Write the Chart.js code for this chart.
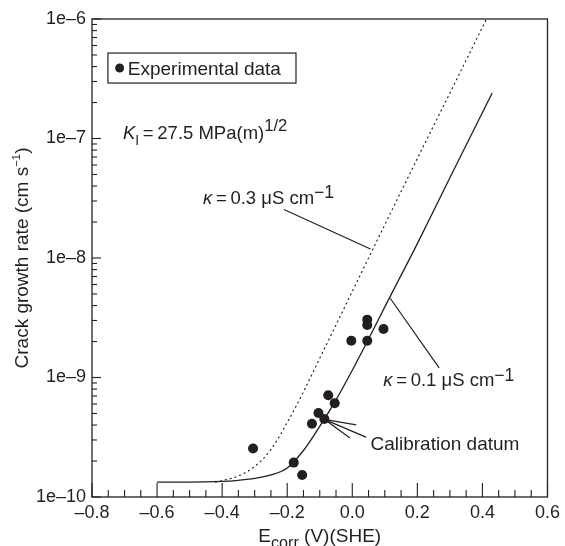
<!DOCTYPE html>
<html>
<head>
<meta charset="utf-8">
<script src="https://cdn.jsdelivr.net/npm/chart.js@4.4.1/dist/chart.umd.min.js"></script>
<style>
  html, body { margin: 0; padding: 0; background: #fff; }
  #wrap { width: 565px; height: 546px; }
</style>
</head>
<body>
<div id="wrap"><canvas id="chart" width="565" height="546"></canvas></div>
<script>
// measured crack growth rates vs corrosion potential
const expE = [-0.305, -0.180, -0.154, -0.124, -0.104, -0.086, -0.074, -0.054, -0.003, 0.046, 0.046, 0.046, 0.096];
const expRate = [2.55e-10, 1.94e-10, 1.53e-10, 4.1e-10, 5.05e-10, 4.5e-10, 7.1e-10, 6.1e-10, 2.03e-9, 3.05e-9, 2.75e-9, 2.03e-9, 2.55e-9];

// model prediction, kappa = 0.1 uS/cm (solid)
const lowE = [-0.60, -0.50, -0.40, -0.35, -0.30, -0.25, -0.20, -0.15, -0.10, -0.05, 0.00, 0.05, 0.10, 0.20, 0.30, 0.43];
const lowRate = [1.33e-10, 1.33e-10, 1.35e-10, 1.38e-10, 1.43e-10, 1.53e-10, 1.75e-10, 2.45e-10, 3.9e-10, 6.5e-10, 1.15e-9, 2.1e-9, 3.9e-9, 1.32e-8, 4.7e-8, 2.4e-7];

// model prediction, kappa = 0.3 uS/cm (dotted)
const highE = [-0.42, -0.40, -0.35, -0.30, -0.25, -0.20, -0.15, -0.10, -0.05, 0.00, 0.10, 0.20, 0.30, 0.42];
const highRate = [1.33e-10, 1.37e-10, 1.5e-10, 1.8e-10, 2.5e-10, 4.2e-10, 7.6e-10, 1.45e-9, 2.75e-9, 5.25e-9, 1.9e-8, 6.8e-8, 2.4e-7, 1.1e-6];

const xTickValues = [-0.8, -0.6, -0.4, -0.2, 0.0, 0.2, 0.4, 0.6];
const xTickLabels = ['\u20130.8', '\u20130.6', '\u20130.4', '\u20130.2', '0.0', '0.2', '0.4', '0.6'];
const yTickValues = [1e-10, 1e-9, 1e-8, 1e-7, 1e-6];
const yTickLabels = ['1e\u201310', '1e\u20139', '1e\u20138', '1e\u20137', '1e\u20136'];

const INK = '#231f20';
const FAMILY = '"Liberation Sans", Arial, Helvetica, sans-serif';
const FS_TICK = 18;
const FS_NOTE = 18.5;
const FS_LABEL = 19;

const toPoints = (xs, ys) => xs.map((x, i) => ({ x: x, y: ys[i] }));

// text with italic / sub / superscript pieces
function richWidth(ctx, parts, size) {
  let w = 0;
  for (const p of parts) {
    const s = (p.sub || p.sup) ? size * (p.scale || 0.8) : size;
    ctx.font = (p.it ? 'italic ' : '') + s + 'px ' + FAMILY;
    w += ctx.measureText(p.t).width;
  }
  return w;
}
function drawRich(ctx, parts, x, y, size) {
  let cx = x;
  for (const p of parts) {
    const s = (p.sub || p.sup) ? size * (p.scale || 0.8) : size;
    ctx.font = (p.it ? 'italic ' : '') + s + 'px ' + FAMILY;
    const dy = p.sub ? size * 0.3 : p.sup ? -size * (p.rise || 0.42) : 0;
    ctx.fillText(p.t, cx, y + dy);
    cx += ctx.measureText(p.t).width;
  }
}

function line(ctx, x1, y1, x2, y2) {
  ctx.beginPath();
  ctx.moveTo(x1, y1);
  ctx.lineTo(x2, y2);
  ctx.stroke();
}

// frame, inward ticks, titles and labels
const decorations = {
  id: 'decorations',
  afterDraw(chart) {
    const ctx = chart.ctx;
    const a = chart.chartArea;
    const xs = chart.scales.x, ys = chart.scales.y;
    const px = v => xs.getPixelForValue(v);
    const py = lg => ys.getPixelForValue(Math.pow(10, lg));

    ctx.save();
    ctx.strokeStyle = INK;
    ctx.fillStyle = INK;
    ctx.lineWidth = 1.3;
    ctx.strokeRect(a.left, a.top, a.right - a.left, a.bottom - a.top);

    // x ticks every 0.05, longer every 0.2
    ctx.lineWidth = 1.1;
    for (let i = 0; i <= 28; i++) {
      const x = px(-0.8 + i * 0.05);
      const len = i % 4 === 0 ? 14 : 7;
      line(ctx, x, a.bottom, x, a.bottom - len);
    }
    // y ticks: decades and 2..9
    for (let d = 0; d < yTickValues.length; d++) {
      const base = yTickValues[d];
      const y = ys.getPixelForValue(base);
      line(ctx, a.left, y, a.left + 9, y);
      if (d === yTickValues.length - 1) break;
      for (let k = 2; k <= 9; k++) {
        const ym = ys.getPixelForValue(base * k);
        line(ctx, a.left, ym, a.left + 5, ym);
      }
    }

    ctx.textBaseline = 'alphabetic';
    ctx.textAlign = 'left';

    // legend box
    ctx.lineWidth = 1.2;
    const lx1 = px(-0.751), lx2 = px(-0.173), ly1 = py(-6.285), ly2 = py(-6.536);
    ctx.strokeRect(lx1, ly1, lx2 - lx1, ly2 - ly1);
    ctx.beginPath();
    ctx.arc(px(-0.715), (ly1 + ly2) / 2, 4.5, 0, Math.PI * 2);
    ctx.fill();
    ctx.font = FS_LABEL + 'px ' + FAMILY;
    ctx.fillText('Experimental data', px(-0.690), (ly1 + ly2) / 2 + 7);

    // stress intensity
    drawRich(ctx, [
      { t: 'K', it: true }, { t: 'I', sub: true, scale: 0.75 },
      { t: '\u2009=\u200927.5 MPa(m)' }, { t: '1/2', sup: true, scale: 0.9 }
    ], px(-0.705), py(-7.006), FS_NOTE);

    // conductivity labels with leaders
    const kappa = v => [
      { t: '\u03ba', it: true }, { t: '\u2009=\u2009' + v + ' \u03bcS cm' },
      { t: '\u22121', sup: true, scale: 0.95, rise: 0.3 }
    ];
    drawRich(ctx, kappa('0.3'), px(-0.459), py(-7.548), FS_NOTE);
    drawRich(ctx, kappa('0.1'), px(0.095), py(-9.072), FS_NOTE);
    ctx.lineWidth = 1.2;
    line(ctx, px(-0.210), py(-7.594), px(0.056), py(-7.925));
    line(ctx, px(0.117), py(-8.339), px(0.267), py(-8.919));

    // calibration datum leaders
    const cx0 = px(-0.086), cy0 = py(-9.35);
    line(ctx, cx0, cy0, px(0.012), py(-9.397));
    line(ctx, cx0, cy0, px(0.042), py(-9.499));
    line(ctx, cx0, cy0, px(-0.007), py(-9.507));
    ctx.font = FS_LABEL + 'px ' + FAMILY;
    ctx.fillText('Calibration datum', px(0.056), py(-9.606));

    // axis titles
    const xt = [{ t: 'E' }, { t: 'corr', sub: true, scale: 0.85 }, { t: ' (V)(SHE)' }];
    drawRich(ctx, xt, (a.left + a.right) / 2 - richWidth(ctx, xt, FS_LABEL) / 2, 542, FS_LABEL);

    const yt = [{ t: 'Crack growth rate (cm s' }, { t: '\u22121', sup: true, scale: 0.6, rise: 0.4 }, { t: ')' }];
    ctx.translate(28, (a.top + a.bottom) / 2);
    ctx.rotate(-Math.PI / 2);
    drawRich(ctx, yt, -richWidth(ctx, yt, FS_LABEL) / 2, 0, FS_LABEL);
    ctx.restore();
  }
};

const tickFont = { family: FAMILY, size: FS_TICK };

new Chart(document.getElementById('chart'), {
  type: 'scatter',
  data: {
    datasets: [
      {
        label: 'Experimental data',
        data: toPoints(expE, expRate),
        pointRadius: 5,
        pointBackgroundColor: INK,
        pointBorderWidth: 0,
        showLine: false
      },
      {
        label: 'kappa 0.1',
        data: toPoints(lowE, lowRate),
        showLine: true,
        borderColor: INK,
        borderWidth: 1.3,
        pointRadius: 0,
        cubicInterpolationMode: 'monotone'
      },
      {
        label: 'kappa 0.3',
        data: toPoints(highE, highRate),
        showLine: true,
        borderColor: INK,
        borderWidth: 1.2,
        borderDash: [1, 4],
        borderCapStyle: 'round',
        pointRadius: 0,
        cubicInterpolationMode: 'monotone'
      }
    ]
  },
  options: {
    responsive: false,
    animation: false,
    layout: { padding: { top: 19, right: 15, left: 0, bottom: 0 } },
    plugins: { legend: { display: false }, tooltip: { enabled: false } },
    scales: {
      x: {
        type: 'linear',
        min: -0.8,
        max: 0.6,
        afterBuildTicks: s => { s.ticks = xTickValues.map(v => ({ value: v })); },
        afterFit: s => { s.height = 49; },
        ticks: {
          autoSkip: false,
          maxRotation: 0,
          padding: 5,
          color: INK,
          font: tickFont,
          callback: (v, i) => xTickLabels[i]
        },
        grid: { display: false, drawTicks: false },
        border: { display: false }
      },
      y: {
        type: 'logarithmic',
        min: 1e-10,
        max: 1e-6,
        afterBuildTicks: s => { s.ticks = yTickValues.map(v => ({ value: v })); },
        afterFit: s => { s.width = 92; },
        ticks: {
          autoSkip: false,
          padding: 6,
          color: INK,
          font: tickFont,
          callback: (v, i) => yTickLabels[i]
        },
        grid: { display: false, drawTicks: false },
        border: { display: false }
      }
    }
  },
  plugins: [decorations]
});
</script>
</body>
</html>
